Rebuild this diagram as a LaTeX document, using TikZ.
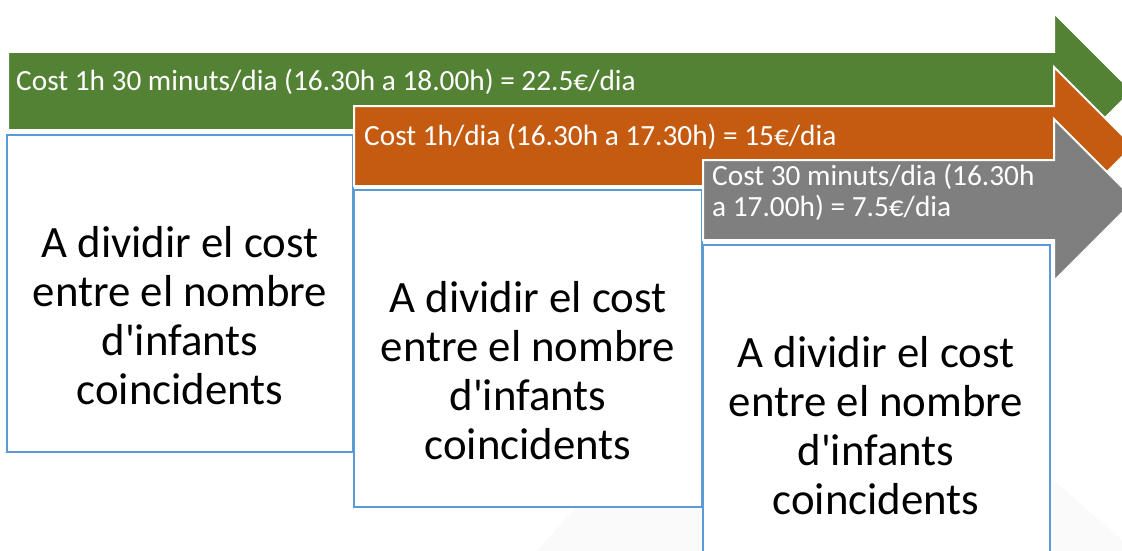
\documentclass[tikz,border=0pt]{standalone}
\usepackage{fontspec}
\setmainfont{Carlito}
\newfontfamily\calfont{Carlito}
\usepackage{tikz}

\definecolor{costgreen}{HTML}{548235}
\definecolor{costorange}{HTML}{C55A11}
\definecolor{costgray}{HTML}{7F7F7F}
\definecolor{boxblue}{HTML}{5B9BD5}

\tikzset{
	costarrow/.style={draw=white, line width=2pt, line join=miter},
	infobox/.style={draw=boxblue, line width=2pt, fill=white},
	arrowtext/.style={text=white, inner sep=0pt, font=\calfont\fontsize{29.3}{31}\selectfont},
	boxtext/.style={inner sep=0pt, align=flush center, text width=340pt, font=\calfont\fontsize{44.8}{49}\selectfont},
}

\begin{document}
\begin{tikzpicture}[x=1pt, y=-1pt]
			\useasboundingbox (0, 0) rectangle (1122, 551);
			% faint background shade
			\fill[black!2] (537, 551) -- (797, 257) -- (1122, 540) -- (1122, 551) -- cycle;
			% green arrow and first box
			\path[costarrow, fill=costgreen] (8, 52) -- (1054, 52) -- (1054, 13) -- (1132, 91) -- (1054, 169) -- (1054, 130) -- (8, 130) -- cycle;
			\node[arrowtext, anchor=base west] (t1) at (16, 91) {Cost 1h 30 minuts/dia (16.30h a 18.00h) = 22.5€/dia};
			\draw[infobox] (7, 135) rectangle (353, 452);
			\node[boxtext, anchor=base] (b1) at (180, 257) {A dividir el cost\\entre el nombre\\d'infants\\coincidents};
			% orange arrow and second box
			\path[costarrow, fill=costorange] (354, 106) -- (1054, 106) -- (1054, 67) -- (1133, 146) -- (1054, 225) -- (1054, 186) -- (354, 186) -- cycle;
			\node[arrowtext, anchor=base west] (t2) at (364, 145) {Cost 1h/dia (16.30h a 17.30h) = 15€/dia};
			\draw[infobox] (354, 190) rectangle (702, 507);
			\node[boxtext, anchor=base] (b2) at (528, 312) {A dividir el cost\\entre el nombre\\d'infants\\coincidents};
			% gray arrow and third box
			\path[costarrow, fill=costgray] (703, 160) -- (1054, 160) -- (1054, 119) -- (1135, 200) -- (1054, 281) -- (1054, 240) -- (703, 240) -- cycle;
			\node[arrowtext, anchor=base west, text width=400pt, align=flush left] (t3) at (712, 185) {Cost 30 minuts/dia (16.30h\\a 17.00h) = 7.5€/dia};
			\draw[infobox] (703, 245) rectangle (1050, 570);
			\node[boxtext, anchor=base] (b3) at (876, 367) {A dividir el cost\\entre el nombre\\d'infants\\coincidents};
		\end{tikzpicture}
\end{document}
